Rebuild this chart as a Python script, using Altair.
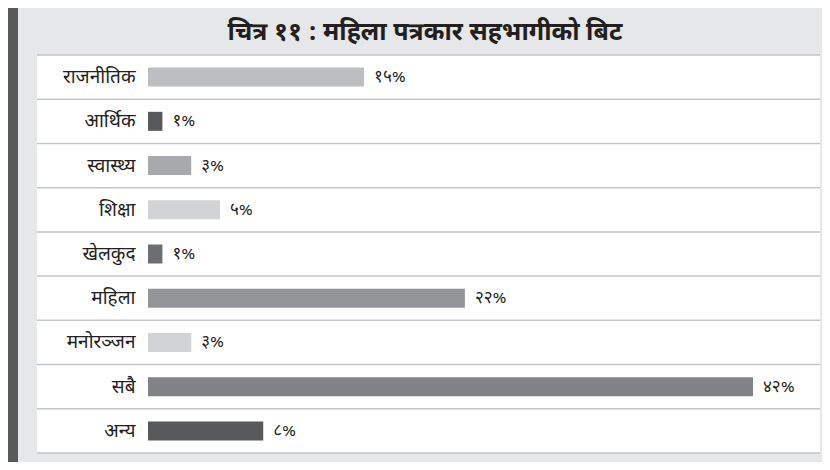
import altair as alt
import pandas as pd

categories = ['राजनीतिक', 'आर्थिक', 'स्वास्थ्य', 'शिक्षा', 'खेलकुद', 'महिला', 'मनोरञ्जन', 'सबै', 'अन्य']
values = [15, 1, 3, 5, 1, 22, 3, 42, 8]
value_labels = ['१५%', '१%', '३%', '५%', '१%', '२२%', '३%', '४२%', '८%']
bar_colors = ['#bcbec0', '#58595b', '#a7a9ac', '#d1d3d4', '#6d6e71', '#939598', '#d1d3d4', '#808285', '#58595b']
title_text = 'चित्र ११ : महिला पत्रकार सहभागीको बिट'

FONT = 'Noto Sans Devanagari, Noto Sans, sans-serif'
W, H = 605, 398

df = pd.DataFrame({'cat': categories, 'val': values, 'lab': value_labels, 'col': bar_colors})
one = pd.DataFrame({'a': [0]})
title_df = pd.DataFrame({'t': [title_text]})

y_enc = alt.Y('cat:N', sort=categories,
              scale=alt.Scale(paddingInner=0, paddingOuter=0),
              axis=alt.Axis(title=None, domain=False, ticks=False, labelPadding=13, zindex=2,
                            labelFontSize=19, labelFontWeight='normal',
                            labelColor='#231f20', labelFont=FONT))
x_enc = alt.X('val:Q', scale=alt.Scale(domain=[0, 42], nice=False, zero=True), axis=None)

panel = alt.Chart(one).mark_rect(color='white').encode(
    x=alt.value(-111), x2=alt.value(672), y=alt.value(0), y2=alt.value(H))
sidebar = alt.Chart(one).mark_rect(color='#58595b').encode(
    x=alt.value(-140), x2=alt.value(-130), y=alt.value(-47), y2=alt.value(H + 9))
top_rule = alt.Chart(one).mark_rule(color='#c4c5c7', strokeWidth=1.5).encode(
    x=alt.value(-111), x2=alt.value(672), y=alt.value(0))
rules = alt.Chart(df).mark_rule(color='#c4c5c7', strokeWidth=1.5).encode(
    y=alt.Y('cat:N', sort=categories, bandPosition=1), x=alt.value(-111), x2=alt.value(672))
bars = alt.Chart(df).mark_bar(size=19).encode(
    y=y_enc, x=x_enc, color=alt.Color('col:N', scale=None))
texts = alt.Chart(df).mark_text(align='left', baseline='middle', dx=10, fontSize=17,
                                color='#231f20', font=FONT).encode(
    y=alt.Y('cat:N', sort=categories), x=x_enc, text='lab:N')
title = alt.Chart(title_df).mark_text(align='center', baseline='middle', fontSize=25,
                                      fontWeight='bold', color='#231f20', font=FONT).encode(
    x=alt.value(277), y=alt.value(-23), text='t:N')

chart = alt.layer(panel, sidebar, top_rule, rules, bars, texts, title).properties(
    width=W, height=H,
    background='#e6e7e8',
    padding={'left': 140, 'top': 47, 'right': 69, 'bottom': 9},
    autosize=alt.AutoSizeParams(type='none'),
).configure_view(stroke=None)

chart.save('out.html', embed_options={'renderer': 'svg', 'actions': False})
